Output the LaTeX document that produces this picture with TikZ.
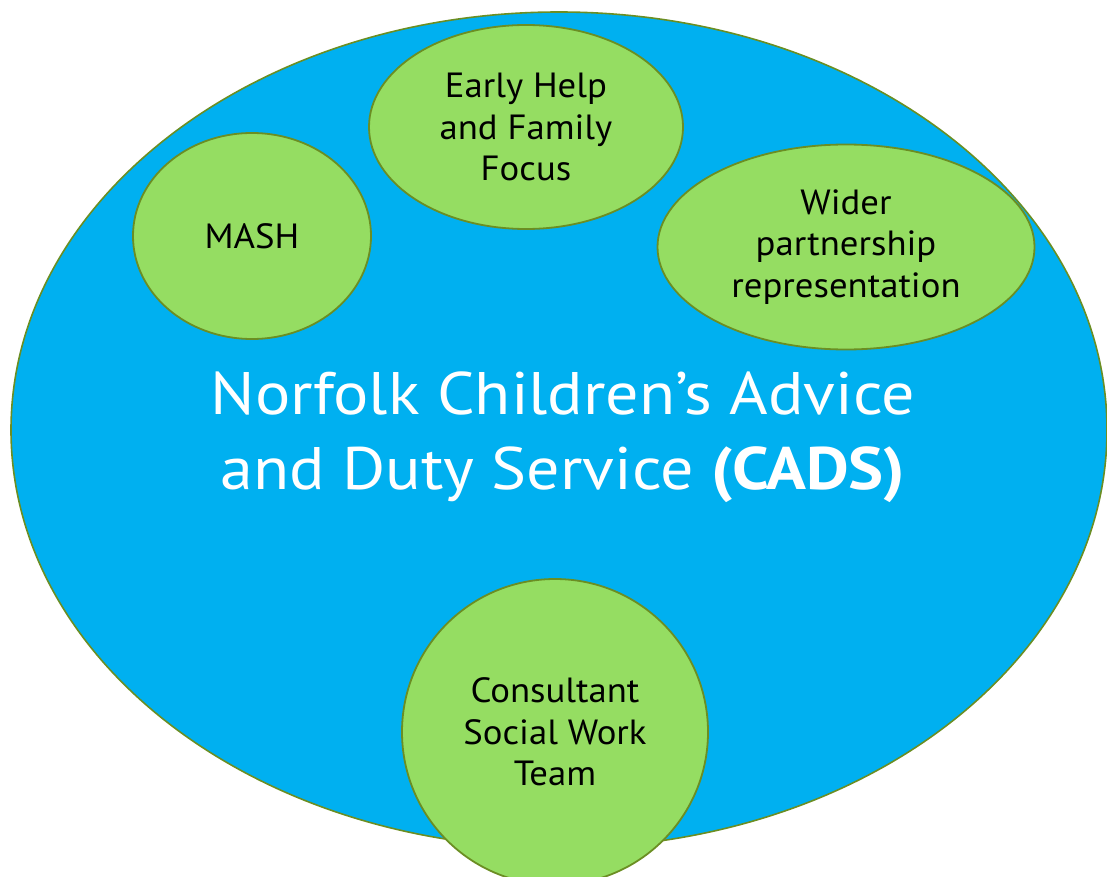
\documentclass[tikz,border=0pt]{standalone}
\usepackage{fontspec}
\setmainfont{PT Sans}[FakeStretch=1.05]
\newfontfamily\titlefont{PT Sans}[FakeStretch=1.1]
\usetikzlibrary{positioning,shapes.geometric}

\definecolor{cadsblue}{HTML}{00B0F0}
\definecolor{teamgreen}{HTML}{95DD62}
\definecolor{rimgreen}{HTML}{6B8E23}

\begin{document}
\begin{tikzpicture}[x=1pt,y=-1pt,
    hub/.style={ellipse, draw=rimgreen, line width=1.6pt, fill=cadsblue,
      minimum width=1096pt, minimum height=836pt, inner sep=0pt},
    part/.style={ellipse, draw=rimgreen, line width=1.8pt, fill=teamgreen,
      inner sep=0pt, align=center, font=\fontsize{35}{41.5}\selectfont}]
      \useasboundingbox (0,0) rectangle (1107,877);

      \node (cads) [hub] at (559,430) {};
      \node (title) at (563,437) [align=center, text=white,
        font=\titlefont\fontsize{60}{75}\selectfont]
        {Norfolk Children’s Advice\\and Duty Service \textbf{(CADS)}};

      \node (mash) [part, minimum width=238pt, minimum height=206pt]
        at (252,236) {MASH};
      \node (help) [part, minimum width=314pt, minimum height=204pt]
        at (526,127) {Early Help\\and Family\\Focus};
      \node (wider) [part, minimum width=377pt, minimum height=205pt]
        at (846,247) {Wider\\partnership\\representation};
      \node (team) [part, circle, minimum size=306pt]
        at (555,732) {Consultant\\Social Work\\Team};
    \end{tikzpicture}
\end{document}
